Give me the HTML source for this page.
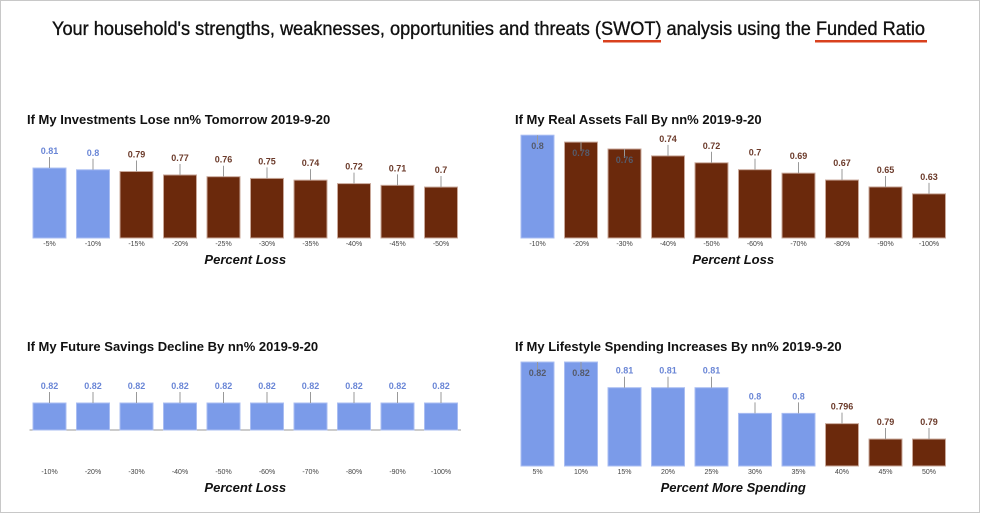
<!DOCTYPE html>
<html><head><meta charset="utf-8"><style>
html,body{margin:0;padding:0;background:#fff;}
svg{display:block;font-family:"Liberation Sans",Arial,sans-serif;}
</style></head><body>
<svg id="s" width="981" height="514" viewBox="0 0 981 514">
<rect x="0.5" y="0.5" width="979" height="512" fill="#fff" stroke="#c8c8c8"/>
<text x="52" y="35" font-size="19" textLength="873" lengthAdjust="spacingAndGlyphs" fill="#111" stroke="#111" stroke-width="0.35">Your household's strengths, weaknesses, opportunities and threats (SWOT) analysis using the Funded Ratio</text>
<rect x="603" y="40" width="58" height="2.5" fill="#d9411e"/>
<rect x="815" y="40" width="112" height="2.5" fill="#d9411e"/>
</svg>
<script>
const cats1=["-5%","-10%","-15%","-20%","-25%","-30%","-35%","-40%","-45%","-50%"];
const vals1=[0.81,0.8,0.79,0.77,0.76,0.75,0.74,0.72,0.71,0.7];
const good1=[1,1,0,0,0,0,0,0,0,0];
const cats2=["-10%","-20%","-30%","-40%","-50%","-60%","-70%","-80%","-90%","-100%"];
const vals2=[0.8,0.78,0.76,0.74,0.72,0.7,0.69,0.67,0.65,0.63];
const good2=[1,0,0,0,0,0,0,0,0,0];
const cats3=["-10%","-20%","-30%","-40%","-50%","-60%","-70%","-80%","-90%","-100%"];
const vals3=[0.82,0.82,0.82,0.82,0.82,0.82,0.82,0.82,0.82,0.82];
const good3=[1,1,1,1,1,1,1,1,1,1];
const cats4=["5%","10%","15%","20%","25%","30%","35%","40%","45%","50%"];
const vals4=[0.82,0.82,0.81,0.81,0.81,0.8,0.8,0.796,0.79,0.79];
const good4=[1,1,1,1,1,1,1,0,0,0];

const S=document.getElementById('s');
const NS="http://www.w3.org/2000/svg";
function mk(tag,attrs,parent){const e=document.createElementNS(NS,tag);for(const k in attrs)e.setAttribute(k,attrs[k]);(parent||S).appendChild(e);return e;}

function chart(cfg){
  const g=mk('g',{});
  
  
  const t=mk('text',{x:cfg.tx,y:cfg.ty,'font-size':13,'font-weight':'bold',fill:'#111'},g);
  t.textContent=cfg.title;
  
  
  const xs=i=>cfg.x0+i*43.5;
  const ys=v=>cfg.base-(v-cfg.vmin)*cfg.k;
  if(cfg.axisLine){const l=mk('line',{x1:cfg.x0-20,x2:xs(9)+20,y1:cfg.base,y2:cfg.base,stroke:'#999','stroke-width':1},g);
    
    }
  cfg.vals.forEach((v,i)=>{
    const cx=xs(i),top=ys(v),good=cfg.good[i];
    const r=mk('rect',{x:cx-16.5,y:top,width:33,height:cfg.base-top,fill:good?'#7b9be9':'#6b290c',stroke:good?'#a9bdf2':'#c9a89a','stroke-width':1},g);
    
    
    let ly=top-14,inside=false;
    if(ly<cfg.minLabel){ly=top+14;inside=true;}
    mk('line',{x1:cx,x2:cx,y1:inside?top:ly+3,y2:inside?ly-5:top,stroke:'#999','stroke-width':1},g);
    const lt=mk('text',{x:cx,y:ly,'text-anchor':'middle','font-size':9,'font-weight':'bold',fill:inside?'#555a6a':(good?'#6a86d6':'#6b3a2a')},g);
    lt.textContent=String(v);
    
    
    const xl=mk('text',{x:cx,y:cfg.xly,'text-anchor':'middle','font-size':7,fill:'#444'},g);
    xl.textContent=cfg.cats[i];
    
    
  });
  const at=mk('text',{x:(xs(0)+xs(9))/2,y:cfg.aty,'text-anchor':'middle','font-size':13,'font-weight':'bold','font-style':'italic',fill:'#111'},g);
  at.textContent=cfg.axisTitle;
  
  
}
chart({name:'investments-chart',title:'If My Investments Lose nn% Tomorrow 2019-9-20',tx:27,ty:124,x0:49.5,base:238,vmin:0.405,k:172.7,minLabel:0,cats:cats1,vals:vals1,good:good1,xly:246,aty:264,axisTitle:'Percent Loss'});
chart({name:'real-assets-chart',title:'If My Real Assets Fall By nn% 2019-9-20',tx:515,ty:124,x0:537.5,base:238,vmin:0.502,k:345,minLabel:138,cats:cats2,vals:vals2,good:good2,xly:246,aty:264,axisTitle:'Percent Loss'});
chart({name:'future-savings-chart',title:'If My Future Savings Decline By nn% 2019-9-20',tx:27,ty:351,x0:49.5,base:430,vmin:0.6,k:122.7,minLabel:0,cats:cats3,vals:vals3,good:good3,xly:474,aty:492,axisTitle:'Percent Loss',axisLine:true});
chart({name:'lifestyle-spending-chart',title:'If My Lifestyle Spending Increases By nn% 2019-9-20',tx:515,ty:351,x0:537.5,base:466,vmin:0.7795,k:2567,minLabel:366,cats:cats4,vals:vals4,good:good4,xly:474,aty:492,axisTitle:'Percent More Spending'});
</script>
</body></html>
